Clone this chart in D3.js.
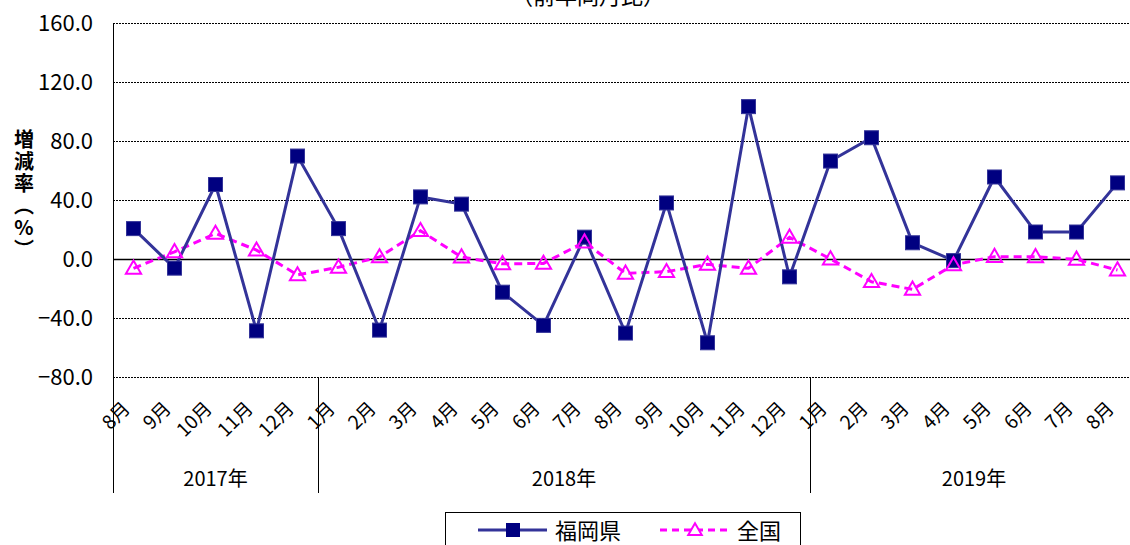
<!DOCTYPE html>
<html>
<head>
<meta charset="utf-8">
<script src="https://cdn.jsdelivr.net/npm/d3@7"></script>
<style>
  body { margin: 0; background: #fff; }
  text { font-family: "Noto Sans CJK JP", sans-serif; }
</style>
</head>
<body>
<svg id="chart" width="1130" height="545"></svg>
<script>
const months = ["8月", "9月", "10月", "11月", "12月",
  "1月", "2月", "3月", "4月", "5月", "6月", "7月", "8月", "9月", "10月", "11月", "12月",
  "1月", "2月", "3月", "4月", "5月", "6月", "7月", "8月"];
const yearLabels = ["2017年", "2018年", "2019年"];
const yearMonthCounts = [5, 12, 8];
const fukuoka = [20.6, -6.2, 50.5, -48.7, 69.8,
  20.6, -48.2, 42.1, 37.2, -22.5, -45.0, 14.8, -50.2, 38.0, -56.8, 103.3, -12.1,
  66.4, 82.2, 11.0, -1.1, 55.6, 18.3, 18.3, 51.6];
const national = [-6.3, 4.9, 17.3, 6.0, -10.8,
  -5.6, 1.4, 19.2, 1.3, -3.3, -3.0, 11.5, -9.7, -8.6, -3.6, -6.3, 14.7,
  0.0, -15.4, -20.6, -4.0, 1.6, 1.5, -0.2, -7.5];
const yTicks = [-80, -40, 0, 40, 80, 120, 160];
const seriesNames = ["福岡県", "全国"];

const svg = d3.select("#chart");

const plotLeft = 113;
const plotTop = 23;
const plotBottom = 377;
const bandWidth = 41;
const plotRight = plotLeft + months.length * bandWidth;

const x = d3.scaleBand()
  .domain(d3.range(months.length))
  .range([plotLeft, plotRight]);

const y = d3.scaleLinear()
  .domain([-80, 160])
  .range([plotBottom, plotTop]);

const cx = i => x(i) + x.bandwidth() / 2;

// title (cut off at top in the original)
svg.append("text")
  .attr("x", 588)
  .attr("y", 4)
  .attr("text-anchor", "middle")
  .attr("font-size", "22px")
  .text("（前年同月比）");

// gridlines
svg.append("g")
  .selectAll("line")
  .data(yTicks.filter(d => d !== 0))
  .enter()
  .append("line")
  .attr("x1", plotLeft)
  .attr("x2", plotRight)
  .attr("y1", d => y(d) + 0.5)
  .attr("y2", d => y(d) + 0.5)
  .attr("stroke", "#000")
  .attr("stroke-width", 1)
  .attr("stroke-dasharray", "2,1");

svg.append("line")
  .attr("x1", plotLeft)
  .attr("x2", plotRight)
  .attr("y1", y(0) + 0.5)
  .attr("y2", y(0) + 0.5)
  .attr("stroke", "#000")
  .attr("stroke-width", 1.3);

// y axis labels
const yAxis = svg.append("g")
  .attr("transform", "translate(" + plotLeft + ",0)")
  .call(d3.axisLeft(y).tickValues(yTicks).tickFormat(d3.format(".1f")).tickSize(0).tickPadding(20));
yAxis.select(".domain").remove();
yAxis.selectAll("text")
  .attr("font-family", "'Noto Sans CJK JP', sans-serif")
  .attr("font-size", "22px")
  .attr("fill", "#000");

// y axis title, vertical writing
svg.append("text")
  .attr("x", 24)
  .attr("y", 129)
  .attr("font-size", "20px")
  .attr("font-weight", "bold")
  .style("writing-mode", "vertical-rl")
  .style("text-orientation", "upright")
  .attr("letter-spacing", "2px")
  .text("増減率（%）");

// left border and year separators
const sepIndex = [0];
yearMonthCounts.forEach((c, i) => sepIndex.push(sepIndex[i] + c));
svg.append("line")
  .attr("x1", plotLeft + 0.5)
  .attr("x2", plotLeft + 0.5)
  .attr("y1", plotTop)
  .attr("y2", 493)
  .attr("stroke", "#000");

svg.append("g")
  .selectAll("line")
  .data(sepIndex.slice(1, -1))
  .enter()
  .append("line")
  .attr("x1", d => x(d) + 0.5)
  .attr("x2", d => x(d) + 0.5)
  .attr("y1", plotBottom)
  .attr("y2", 493)
  .attr("stroke", "#000");

// month labels
svg.append("g")
  .selectAll("text")
  .data(months)
  .enter()
  .append("text")
  .attr("text-anchor", "end")
  .attr("font-size", "19px")
  .attr("transform", (d, i) => "translate(" + (cx(i) - 7) + ",405) rotate(-45)")
  .attr("dy", "0.35em")
  .text(d => d);

// year labels
svg.append("g")
  .selectAll("text")
  .data(yearLabels)
  .enter()
  .append("text")
  .attr("x", (d, i) => (x(sepIndex[i]) + x(sepIndex[i + 1] - 1) + bandWidth) / 2)
  .attr("y", 486)
  .attr("text-anchor", "middle")
  .attr("font-size", "20px")
  .text(d => d);

// national series
const line = d3.line()
  .x((d, i) => cx(i))
  .y(d => y(d));

const triangle = d3.symbol().type(d3.symbolTriangle).size(100);

svg.append("path")
  .attr("d", line(national))
  .attr("fill", "none")
  .attr("stroke", "#ff00ff")
  .attr("stroke-width", 3)
  .attr("stroke-dasharray", "8,5");

// fukuoka series
svg.append("path")
  .attr("d", line(fukuoka))
  .attr("fill", "none")
  .attr("stroke", "#333399")
  .attr("stroke-width", 3);

svg.append("g")
  .selectAll("rect")
  .data(fukuoka)
  .enter()
  .append("rect")
  .attr("x", (d, i) => cx(i) - 7)
  .attr("y", d => y(d) - 7)
  .attr("width", 14)
  .attr("height", 14)
  .attr("fill", "#000080")
  .attr("stroke", "#333399")
  .attr("stroke-width", 1);

svg.append("g")
  .selectAll("path")
  .data(national)
  .enter()
  .append("path")
  .attr("d", triangle)
  .attr("transform", (d, i) => "translate(" + cx(i) + "," + (y(d) + 1) + ")")
  .attr("fill", "none")
  .attr("stroke", "#ff00ff")
  .attr("stroke-width", 2);

// legend
svg.append("rect")
  .attr("x", 445.5)
  .attr("y", 512.5)
  .attr("width", 355)
  .attr("height", 40)
  .attr("fill", "#fff")
  .attr("stroke", "#000")
  .attr("stroke-width", 1);

svg.append("line")
  .attr("x1", 478).attr("x2", 547)
  .attr("y1", 530).attr("y2", 530)
  .attr("stroke", "#333399")
  .attr("stroke-width", 3);
svg.append("rect")
  .attr("x", 506).attr("y", 523)
  .attr("width", 14).attr("height", 14)
  .attr("fill", "#000080");
svg.append("text")
  .attr("x", 555).attr("y", 539)
  .attr("font-size", "22px")
  .text(seriesNames[0]);

svg.append("line")
  .attr("x1", 660).attr("x2", 728)
  .attr("y1", 530).attr("y2", 530)
  .attr("stroke", "#ff00ff")
  .attr("stroke-width", 3)
  .attr("stroke-dasharray", "7,5");
svg.append("path")
  .attr("d", d3.symbol().type(d3.symbolTriangle).size(80))
  .attr("transform", "translate(695,531)")
  .attr("fill", "#fff")
  .attr("stroke", "#ff00ff")
  .attr("stroke-width", 2);
svg.append("text")
  .attr("x", 737).attr("y", 539)
  .attr("font-size", "22px")
  .text(seriesNames[1]);
</script>
</body>
</html>
